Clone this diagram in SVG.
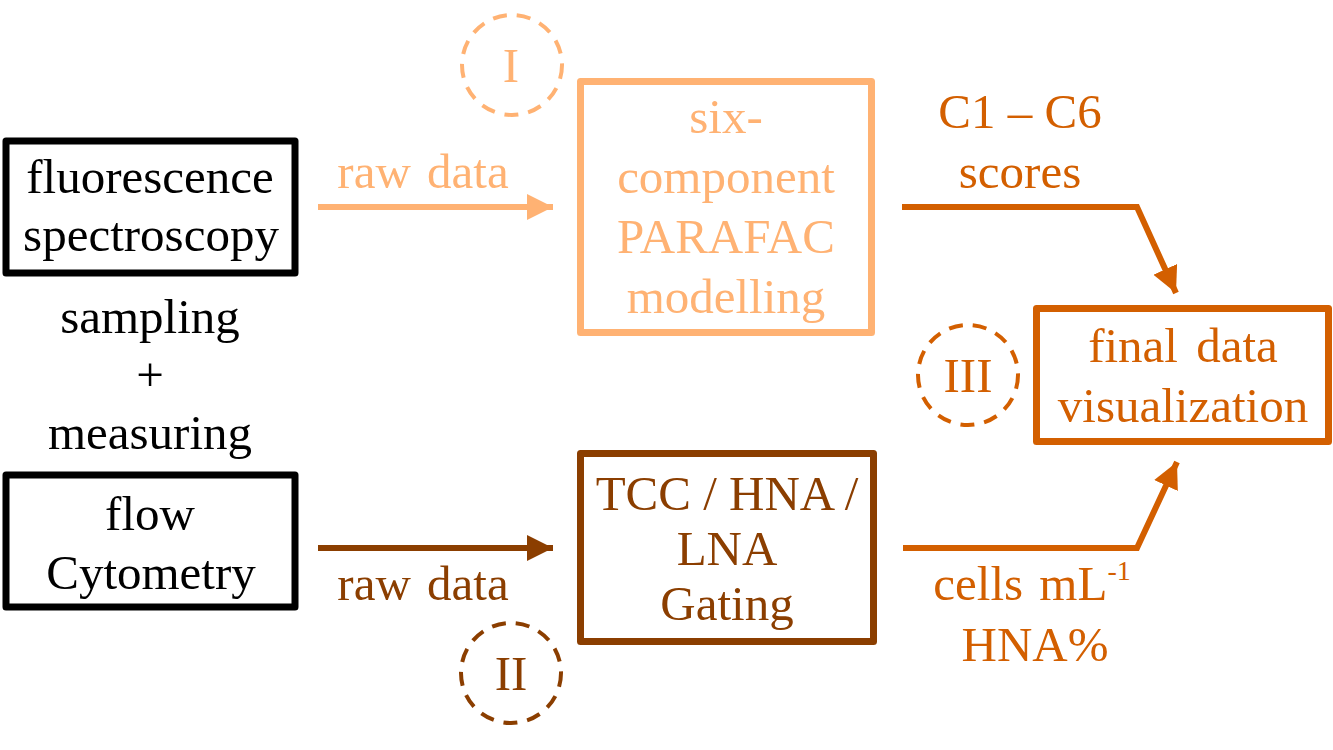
<svg xmlns="http://www.w3.org/2000/svg" width="1333" height="750" viewBox="0 0 1333 750">
<style>
text{font-family:"Liberation Serif","Times New Roman",serif;font-size:49px;text-anchor:middle}
.blk{fill:#000}
.lt{fill:#FFB273}
.dk{fill:#8B3E00}
.md{fill:#D35F00}
.box{fill:#fff;stroke-width:7;stroke-linejoin:round}
.circ{fill:none;stroke-width:4;stroke-dasharray:14 10}
.con{fill:none;stroke-width:6}
</style>
<defs>
<marker id="aL" markerUnits="userSpaceOnUse" markerWidth="30" markerHeight="30" refX="26" refY="13" orient="auto"><path d="M0,0 L26,13 L0,26 Z" fill="#FFB273"/></marker>
<marker id="aD" markerUnits="userSpaceOnUse" markerWidth="30" markerHeight="30" refX="26" refY="13" orient="auto"><path d="M0,0 L26,13 L0,26 Z" fill="#8B3E00"/></marker>
<marker id="aM" markerUnits="userSpaceOnUse" markerWidth="30" markerHeight="30" refX="26" refY="13" orient="auto"><path d="M0,0 L26,13 L0,26 Z" fill="#D35F00"/></marker>
</defs>

<g id="fluorescence">
<rect class="box" x="6" y="141" width="289" height="132" stroke="#000" stroke-width="8"/>
<text class="blk" x="150" y="193">fluorescence</text>
<text class="blk" x="151" y="251">spectroscopy</text>
</g>

<g id="sampling">
<text class="blk" x="150" y="333">sampling</text>
<text class="blk" x="150" y="391">+</text>
<text class="blk" x="150" y="449">measuring</text>
</g>

<g id="flow">
<rect class="box" x="6" y="475" width="289" height="132" stroke="#000" stroke-width="8"/>
<text class="blk" x="150" y="530">flow</text>
<text class="blk" x="151" y="589">Cytometry</text>
</g>

<g id="parafac">
<rect class="box" x="580.5" y="81.5" width="291" height="251" stroke="#FFB273"/>
<text class="lt" x="726" y="133">six-</text>
<text class="lt" x="726" y="193">component</text>
<text class="lt" x="726" y="253">PARAFAC</text>
<text class="lt" x="726" y="313">modelling</text>
</g>

<g id="circleI">
<circle class="circ" cx="512" cy="65" r="50" stroke="#FFB273"/>
<text class="lt" x="511" y="82">I</text>
</g>

<g id="tcc">
<rect class="box" x="580.5" y="453.5" width="293" height="188" stroke="#8B3E00"/>
<text class="dk" x="727" y="510">TCC / HNA /</text>
<text class="dk" x="727" y="565">LNA</text>
<text class="dk" x="727" y="620">Gating</text>
</g>

<g id="circleII">
<circle class="circ" cx="511" cy="673" r="50" stroke="#8B3E00"/>
<text class="dk" x="511" y="690">II</text>
</g>

<g id="final">
<rect class="box" x="1036.5" y="308.5" width="292" height="133" stroke="#D35F00"/>
<text class="md" x="1183" y="362" word-spacing="6">final data</text>
<text class="md" x="1183" y="422">visualization</text>
</g>

<g id="circleIII">
<circle class="circ" cx="968" cy="375" r="50" stroke="#D35F00"/>
<text class="md" x="968" y="392">III</text>
</g>

<g id="connectors">
<path class="con" d="M318,207 L553,207" stroke="#FFB273" marker-end="url(#aL)"/>
<path class="con" d="M318,548 L553,548" stroke="#8B3E00" marker-end="url(#aD)"/>
<path class="con" d="M902,207 L1137,207 L1176,293" stroke="#D35F00" marker-end="url(#aM)"/>
<path class="con" d="M903,548 L1137,548 L1177,462" stroke="#D35F00" marker-end="url(#aM)"/>
</g>

<g id="labels">
<text class="lt" x="423" y="188" word-spacing="4">raw data</text>
<text class="dk" x="423" y="600" word-spacing="4">raw data</text>
<text class="md" x="1020" y="128">C1 – C6</text>
<text class="md" x="1020" y="188">scores</text>
<text class="md" x="1032" y="600" word-spacing="4">cells mL<tspan dy="-20" font-size="28">-1</tspan></text>
<text class="md" x="1035" y="661">HNA%</text>
</g>
</svg>
